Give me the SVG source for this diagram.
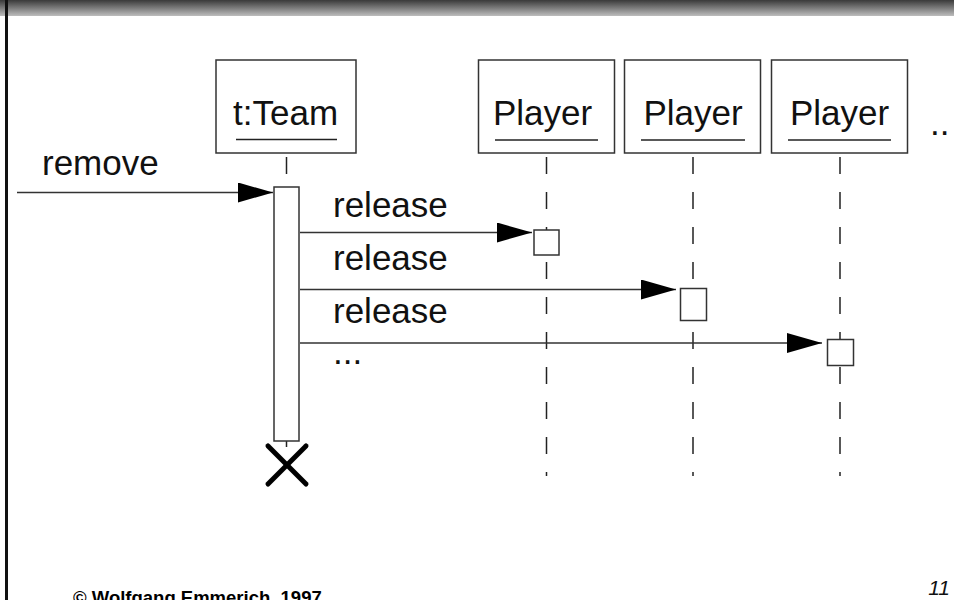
<svg xmlns="http://www.w3.org/2000/svg" width="954" height="600" viewBox="0 0 954 600">
  <defs>
    <linearGradient id="bannerGrad" x1="0" y1="0" x2="0" y2="1">
      <stop offset="0" stop-color="#3a3a3a"/>
      <stop offset="1" stop-color="#bdbdbd"/>
    </linearGradient>
    <marker id="arrowHead" markerUnits="userSpaceOnUse" markerWidth="36" markerHeight="22" refX="35" refY="10" orient="auto">
      <path d="M0,0 L35,10 L0,20 Z" fill="#000"/>
    </marker>
  </defs>
  <style>
    .obj { fill: #fff; stroke: #333; stroke-width: 1.5; }
    .label { font-family: "Liberation Sans", Arial, sans-serif; font-size: 35px; fill: #111; }
    .uline { stroke: #222; stroke-width: 1.5; }
    .life { stroke: #222; stroke-width: 1.5; stroke-dasharray: 17 18; fill: none; }
    .act { fill: #fff; stroke: #333; stroke-width: 1.5; }
    .msg { stroke: #333; stroke-width: 1.6; fill: none; marker-end: url(#arrowHead); }
  </style>

  <!-- page frame -->
  <rect x="0" y="0" width="954" height="600" fill="#fff"/>
  <rect x="0" y="0" width="954" height="16" fill="url(#bannerGrad)"/>
  <line x1="6.5" y1="0" x2="6.5" y2="600" stroke="#111" stroke-width="3"/>

  <!-- lifelines -->
  <g id="lifelines">
    <line x1="286.5" y1="157" x2="286.5" y2="187" class="life"/>
    <line x1="546.5" y1="157" x2="546.5" y2="476" class="life"/>
    <line x1="693" y1="157" x2="693" y2="476" class="life"/>
    <line x1="840" y1="157" x2="840" y2="476" class="life"/>
    <line x1="286.5" y1="441" x2="286.5" y2="447" stroke="#222" stroke-width="1.5"/>
  </g>

  <!-- objects -->
  <g id="team">
    <rect x="216" y="60" width="140" height="93" class="obj"/>
    <text x="233" y="125" class="label">t:Team</text>
    <line x1="236" y1="139.5" x2="337" y2="139.5" class="uline"/>
  </g>
  <g id="player1">
    <rect x="478.5" y="60" width="136" height="93" class="obj"/>
    <text x="493" y="125" class="label">Player</text>
    <line x1="495" y1="140" x2="598" y2="140" class="uline"/>
  </g>
  <g id="player2">
    <rect x="624.5" y="60" width="136" height="93" class="obj"/>
    <text x="643.5" y="125" class="label">Player</text>
    <line x1="641" y1="140" x2="745" y2="140" class="uline"/>
  </g>
  <g id="player3">
    <rect x="771.5" y="60" width="136" height="93" class="obj"/>
    <text x="790" y="125" class="label">Player</text>
    <line x1="788" y1="140" x2="891" y2="140" class="uline"/>
  </g>
  <text x="930" y="135" class="label">..</text>

  <!-- activations -->
  <g id="activations">
    <rect x="274" y="187" width="25" height="254" class="act"/>
    <rect x="534" y="230" width="25" height="25" class="act"/>
    <rect x="680.5" y="288.5" width="26" height="32" class="act"/>
    <rect x="827.5" y="339.5" width="26" height="26" class="act"/>
  </g>

  <!-- messages -->
  <g id="connectors">
    <line x1="17" y1="192.5" x2="273" y2="192.5" class="msg"/>
    <line x1="300" y1="232.5" x2="532" y2="232.5" class="msg"/>
    <line x1="300" y1="289.5" x2="676" y2="289.5" class="msg"/>
    <line x1="300" y1="343" x2="822" y2="343" class="msg"/>
  </g>
  <g id="messageLabels">
    <text x="42" y="175" class="label">remove</text>
    <text x="333" y="217" class="label">release</text>
    <text x="333" y="270" class="label">release</text>
    <text x="333" y="323" class="label">release</text>
    <text x="333" y="364" class="label">...</text>
  </g>

  <!-- destruction mark -->
  <g id="destroy" stroke="#000" stroke-width="5" stroke-linecap="round">
    <line x1="268" y1="446" x2="306" y2="484"/>
    <line x1="306" y1="446" x2="268" y2="484"/>
  </g>

  <!-- footer -->
  <text x="73" y="604" font-family="'Liberation Sans', Arial, sans-serif" font-size="18.5" font-weight="bold" fill="#000">© Wolfgang Emmerich, 1997</text>
  <text x="950" y="595" text-anchor="end" font-family="'Liberation Sans', Arial, sans-serif" font-size="21" font-style="italic" fill="#111">11</text>
</svg>
